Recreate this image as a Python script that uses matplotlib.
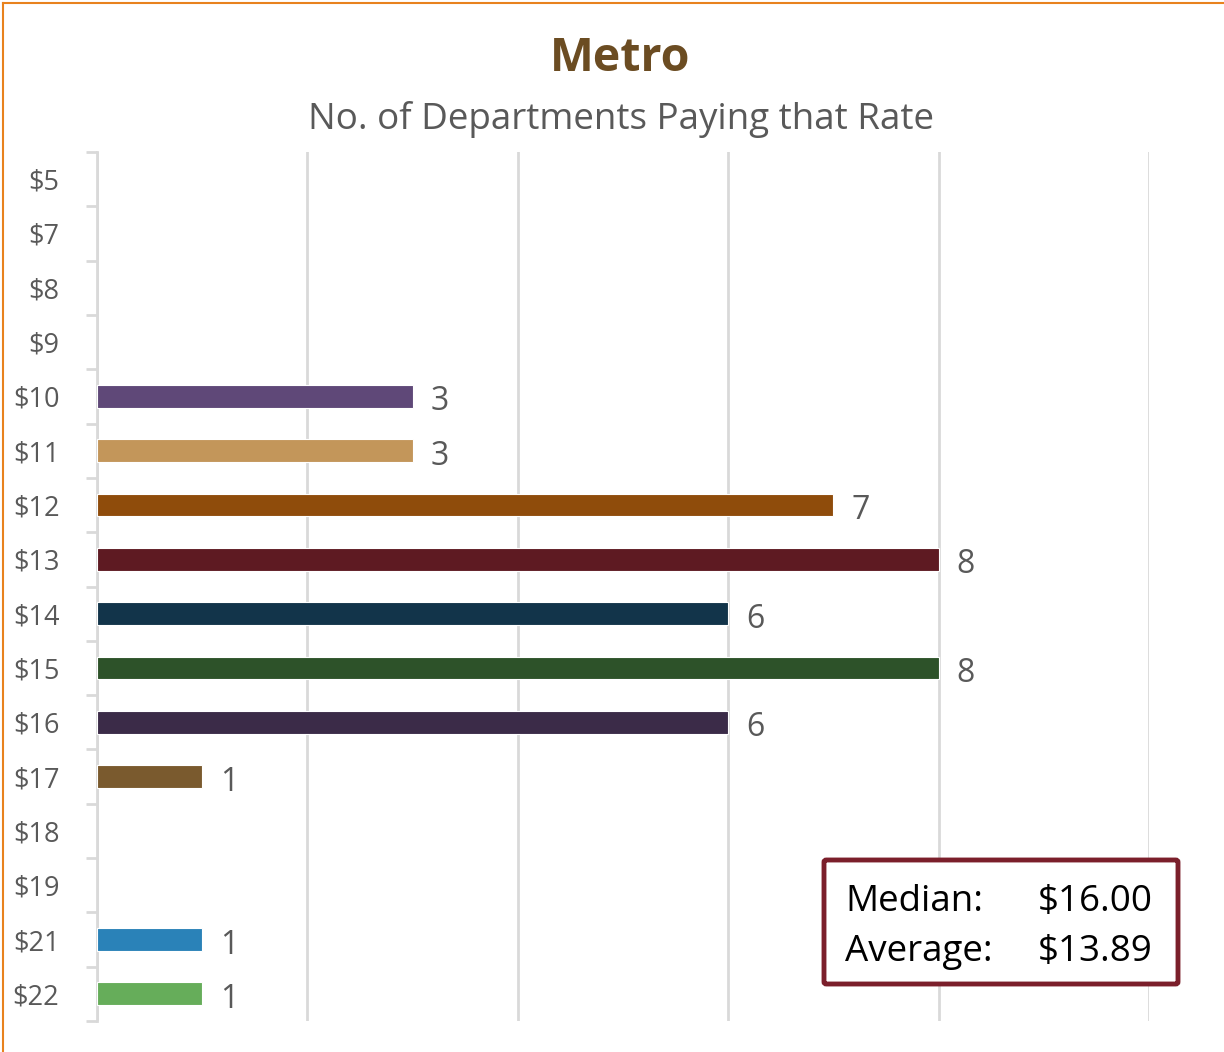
import matplotlib
matplotlib.use("Agg")
import matplotlib.pyplot as plt
from matplotlib.patches import FancyBboxPatch
from matplotlib.lines import Line2D
import numpy as np

# pay rate categories (top to bottom) and number of departments paying each
rates = ["$5", "$7", "$8", "$9", "$10", "$11", "$12", "$13", "$14", "$15",
         "$16", "$17", "$18", "$19", "$21", "$22"]
counts = [0, 0, 0, 0, 3, 3, 7, 8, 6, 8, 6, 1, 0, 0, 1, 1]
bar_colors = ["#5f4878", "#5f4878", "#5f4878", "#5f4878", "#5f4878",
              "#c3965a", "#8f4c0b", "#5e1a22", "#12344a", "#2d5229",
              "#3b2b48", "#7a5a2e", "#7a5a2e", "#7a5a2e", "#2a82b8", "#66ad5a"]
x_ticks = [0, 2, 4, 6, 8, 10]
median, average = 16.00, 13.89

TEXT = "#595959"
GRID = "#d9d9d9"
plt.rcParams["font.family"] = ["Open Sans", "DejaVu Sans"]

fig = plt.figure(figsize=(12.24, 10.52), dpi=100)
ax = fig.add_axes([97 / 1224, 1 - 1021 / 1052, 1052 / 1224, 869 / 1052])

y = np.arange(len(rates))
ax.barh(y, counts, height=0.42, color=bar_colors, edgecolor="white",
        linewidth=[0.8 if c else 0 for c in counts], zorder=3)
for yi, c in zip(y, counts):
    if c > 0:
        ax.annotate(str(c), (c, yi), xytext=(13, -4), textcoords="offset points",
                    va="center", ha="left", fontsize=23, color=TEXT, zorder=4)

ax.set_xlim(0, 10)
ax.set_ylim(len(rates) - 0.5, -0.5)
ax.set_xticks(x_ticks)
ax.xaxis.grid(True, color=GRID, linewidth=2, zorder=0)
ax.tick_params(axis="x", length=0, labelbottom=False)

ax.set_yticks(y)
ax.set_yticklabels(rates, fontsize=19.5, color=TEXT)
ax.set_yticks(np.arange(len(rates) + 1) - 0.5, minor=True)
ax.tick_params(axis="y", which="major", length=0, pad=27)
ax.tick_params(axis="y", which="minor", length=8, width=2, color=GRID)

for side in ["top", "right", "bottom"]:
    ax.spines[side].set_visible(False)
ax.spines["left"].set_color(GRID)
ax.spines["left"].set_linewidth(2)

fig.text(0.507, 0.944, "Metro", ha="center", va="center", fontsize=33.5,
         fontweight="bold", color="#6b4c22")
fig.text(0.507, 0.886, "No. of Departments Paying that Rate", ha="center",
         va="center", fontsize=26.5, color=TEXT)

# summary box
box = FancyBboxPatch((824 / 1224, 1 - 984 / 1052), 354 / 1224, 124 / 1052,
                     boxstyle="round,pad=0,rounding_size=0.002",
                     transform=fig.transFigure, facecolor="white",
                     edgecolor="#7b1f2b", linewidth=3.5, zorder=5)
fig.add_artist(box)
fig.text(845 / 1224, 1 - 902 / 1052, "Median:", fontsize=26.5, va="center",
         color="black", zorder=6)
fig.text(845 / 1224, 1 - 952 / 1052, "Average:", fontsize=26.5, va="center",
         color="black", zorder=6)
fig.text(1153 / 1224, 1 - 902 / 1052, f"${median:.2f}", fontsize=26.5,
         va="center", ha="right", color="black", zorder=6)
fig.text(1153 / 1224, 1 - 952 / 1052, f"${average:.2f}", fontsize=26.5,
         va="center", ha="right", color="black", zorder=6)

# orange outer frame (top and left edges visible)
fig.add_artist(Line2D([3 / 1224, 3 / 1224], [0, 1 - 3 / 1052],
                      transform=fig.transFigure, color="#e8821e", linewidth=1.5))
fig.add_artist(Line2D([3 / 1224, 1], [1 - 3 / 1052, 1 - 3 / 1052],
                      transform=fig.transFigure, color="#e8821e", linewidth=1.5))

fig.savefig("out.png", dpi=100, facecolor="white")
